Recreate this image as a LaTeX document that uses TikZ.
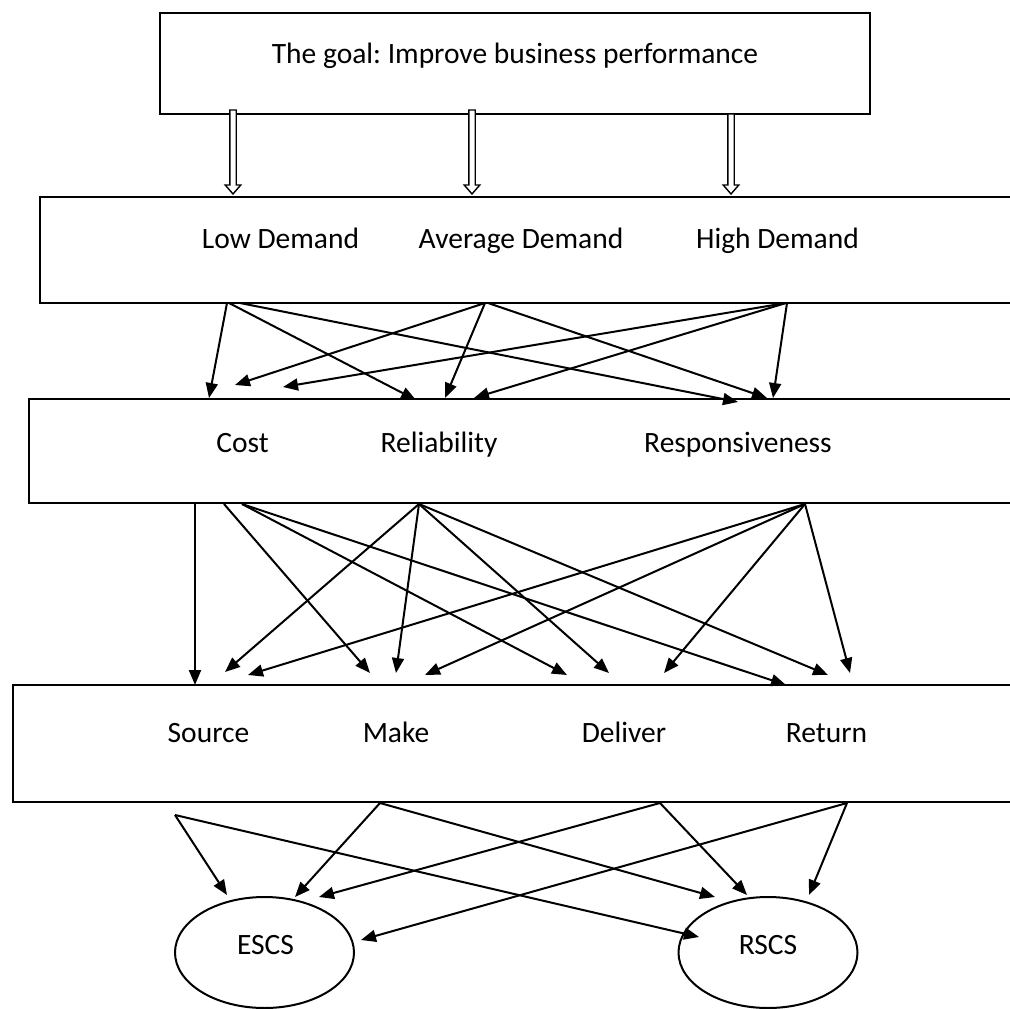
\documentclass[tikz,border=0pt]{standalone}
\usepackage{fontspec}
\setmainfont{Carlito}
\usetikzlibrary{arrows.meta,shapes.geometric}
\frenchspacing
\begin{document}
\begin{tikzpicture}[x=1pt,y=-1pt,
  box/.style={line width=2.6pt, line join=miter},
  lbl/.style={anchor=base, inner sep=0pt, font=\fontsize{29.5}{34}\selectfont},
  link/.style={line width=2pt, -{Triangle[length=15pt,width=12pt]}},
  hollow/.style={line width=1.4pt, fill=white, line join=miter},
  oval/.style={draw, ellipse, line width=2pt, minimum width=179pt, minimum height=111pt, inner sep=0pt}]
\useasboundingbox (0,0) rectangle (1010,1009);

% ---------- boxes (the lower three run off the right margin) ----------
\draw[box] (160,13) rectangle (870,114);
\draw[box] (1012,197) -- (40,197) -- (40,303) -- (1012,303);
\draw[box] (1012,399) -- (29,399) -- (29,503) -- (1012,503);
\draw[box] (1012,685) -- (13,685) -- (13,802) -- (1012,802);

% ---------- labels ----------
\node[lbl] (goal) at (515,63) {The goal: Improve business performance};
\node[lbl] (low)  at (280.5,248) {Low Demand};
\node[lbl] (avg)  at (521,248) {Average Demand};
\node[lbl] (high) at (777.5,248) {High Demand};
\node[lbl] (cost) at (242.5,452) {Cost};
\node[lbl] (rel)  at (439,452) {Reliability};
\node[lbl] (resp) at (738,452) {Responsiveness};
\node[lbl] (src)  at (208.5,742) {Source};
\node[lbl] (make) at (396,742) {Make};
\node[lbl] (deliv) at (624,742) {Deliver};
\node[lbl] (ret)  at (826.5,742) {Return};

% ---------- outcome ellipses ----------
\node[oval] (escs) at (264.5,952.5) {};
\node[oval] (rscs) at (768,952.5) {};
\node[lbl] (escstxt) at (265.5,954) {ESCS};
\node[lbl] (rscstxt) at (768,954) {RSCS};

% ---------- hollow block arrows from the goal ----------
\foreach \x/\t in {233/110, 472/110, 731/114}
  \draw[hollow] (\x-3.2,\t) -- (\x-3.2,185) -- (\x-7.8,185) -- (\x,194)
                -- (\x+7.8,185) -- (\x+3.2,185) -- (\x+3.2,\t) -- cycle;

% ---------- demand level -> performance attribute ----------
\coordinate (lowA) at (227,303);
\coordinate (lowB) at (229,303);
\coordinate (lowC) at (240,303);
\coordinate (avgA) at (485,303);
\coordinate (avgB) at (488,303);
\coordinate (highA) at (786,303);
\coordinate (highB) at (787,303);
\coordinate (costA) at (209,398);
\coordinate (costB) at (235,385);
\coordinate (costC) at (283,387);
\coordinate (relA) at (416,400);
\coordinate (relB) at (445,398);
\coordinate (relC) at (474,398);
\coordinate (respA) at (738,402);
\coordinate (respB) at (767,398);
\coordinate (respC) at (773,398);

\draw[link] (lowA) -- (costA);
\draw[link] (lowB) -- (relA);
\draw[link] (lowC) -- (respA);
\draw[link] (avgA) -- (costB);
\draw[link] (avgA) -- (relB);
\draw[link] (avgB) -- (respB);
\draw[link] (highA) -- (costC);
\draw[link] (highA) -- (relC);
\draw[link] (highB) -- (respC);

% ---------- performance attribute -> process ----------
\coordinate (costD) at (195,504);
\coordinate (costE) at (224,504);
\coordinate (costF) at (242,504);
\coordinate (relD) at (419,504);
\coordinate (respD) at (805,504);
\coordinate (srcA) at (195,685);
\coordinate (srcB) at (225,672);
\coordinate (srcC) at (248,675);
\coordinate (makeA) at (370,673);
\coordinate (makeB) at (396,673);
\coordinate (makeC) at (425,675);
\coordinate (delA) at (567,675);
\coordinate (delB) at (609,673);
\coordinate (delC) at (664,673);
\coordinate (retA) at (786,685);
\coordinate (retB) at (828,675);
\coordinate (retC) at (850,673);

\draw[link] (costD) -- (srcA);
\draw[link] (costE) -- (makeA);
\draw[link] (costF) -- (delA);
\draw[link] (costF) -- (retA);
\draw[link] (relD) -- (srcB);
\draw[link] (relD) -- (makeB);
\draw[link] (relD) -- (delB);
\draw[link] (relD) -- (retB);
\draw[link] (respD) -- (srcC);
\draw[link] (respD) -- (makeC);
\draw[link] (respD) -- (delC);
\draw[link] (respD) -- (retC);

% ---------- process -> supply chain strategy ----------
\coordinate (srcD) at (175,815);
\coordinate (makeD) at (380,803);
\coordinate (delD) at (660,803);
\coordinate (retD) at (847,803);
\coordinate (escsA) at (227,895);
\coordinate (escsB) at (295,897);
\coordinate (escsC) at (319,897);
\coordinate (escsD) at (361,940);
\coordinate (rscsA) at (699,937);
\coordinate (rscsB) at (715,897);
\coordinate (rscsC) at (747,895);
\coordinate (rscsD) at (809,895);

\draw[link] (srcD) -- (escsA);
\draw[link] (srcD) -- (rscsA);
\draw[link] (makeD) -- (escsB);
\draw[link] (makeD) -- (rscsB);
\draw[link] (delD) -- (escsC);
\draw[link] (delD) -- (rscsC);
\draw[link] (retD) -- (escsD);
\draw[link] (retD) -- (rscsD);
\end{tikzpicture}
\end{document}
